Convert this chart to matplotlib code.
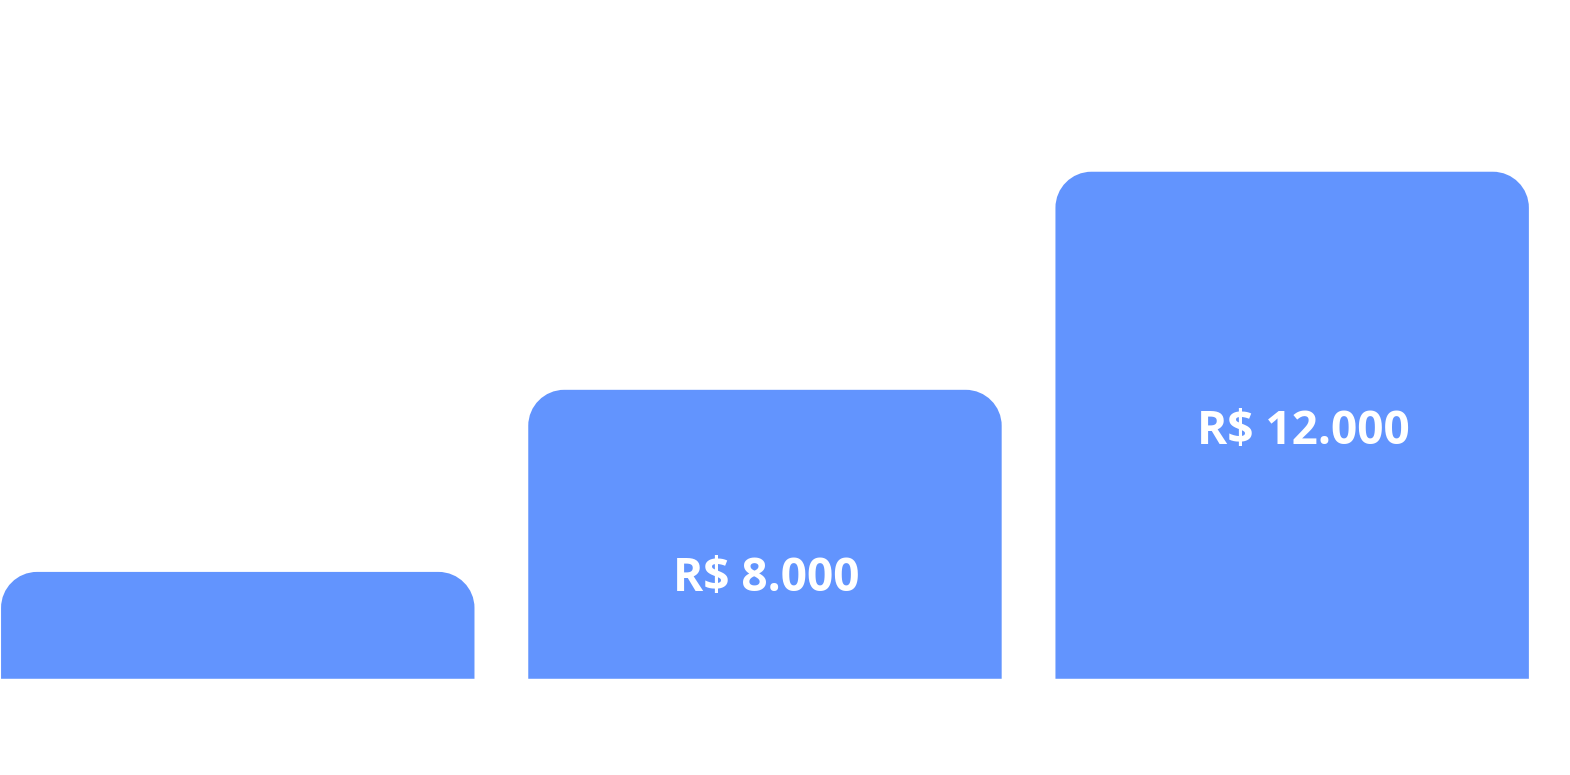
import matplotlib
matplotlib.use("Agg")
import matplotlib.pyplot as plt
from matplotlib.path import Path
from matplotlib.patches import PathPatch

# data
categories = ["A", "B", "C"]
values = [4660, 8000, 12000]
labels = ["", "R$ 8.000", "R$ 12.000"]

BAR_COLOR = "#6294fe"
FLOOR = 2700          # value where the bars start
BAR_WIDTH = 0.898
RADIUS_PX = 36
LABEL_FRAC = [0.5, 0.346, 0.487]   # label height as share of bar
LABEL_DX = [0.0, 0.002, 0.021]     # small horizontal nudge of labels

W, H, DPI = 1570, 775, 100
XLIM = (-0.451, 2.527)
YLIM = (935, 15150)
fig = plt.figure(figsize=(W / DPI, H / DPI), dpi=DPI)
ax = fig.add_axes([0, 0, 1, 1])
ax.set_xlim(*XLIM)
ax.set_ylim(*YLIM)
ax.axis("off")

px_x = W / (XLIM[1] - XLIM[0])
px_y = H / (YLIM[1] - YLIM[0])
rx = RADIUS_PX / px_x
ry = RADIUS_PX / px_y
k = 0.5523  # bezier circle constant


def rounded_top_bar(x0, x1, y0, y1):
    verts = [
        (x0, y0),
        (x0, y1 - ry),
        (x0, y1 - ry + k * ry), (x0 + rx - k * rx, y1), (x0 + rx, y1),
        (x1 - rx, y1),
        (x1 - rx + k * rx, y1), (x1, y1 - ry + k * ry), (x1, y1 - ry),
        (x1, y0),
        (x0, y0),
    ]
    codes = [Path.MOVETO, Path.LINETO,
             Path.CURVE4, Path.CURVE4, Path.CURVE4,
             Path.LINETO,
             Path.CURVE4, Path.CURVE4, Path.CURVE4,
             Path.LINETO, Path.CLOSEPOLY]
    return Path(verts, codes)


for i, (v, lab) in enumerate(zip(values, labels)):
    x0 = i - BAR_WIDTH / 2
    x1 = i + BAR_WIDTH / 2
    ax.add_patch(PathPatch(rounded_top_bar(x0, x1, FLOOR, v),
                           facecolor=BAR_COLOR, edgecolor="none"))
    if lab:
        ty = FLOOR + (v - FLOOR) * LABEL_FRAC[i]
        ax.text(i + LABEL_DX[i], ty, lab, ha="center", va="center", color="white",
                fontsize=33, fontweight="bold", family=["Open Sans", "DejaVu Sans"])

fig.savefig("out.png", dpi=DPI, facecolor="white")
